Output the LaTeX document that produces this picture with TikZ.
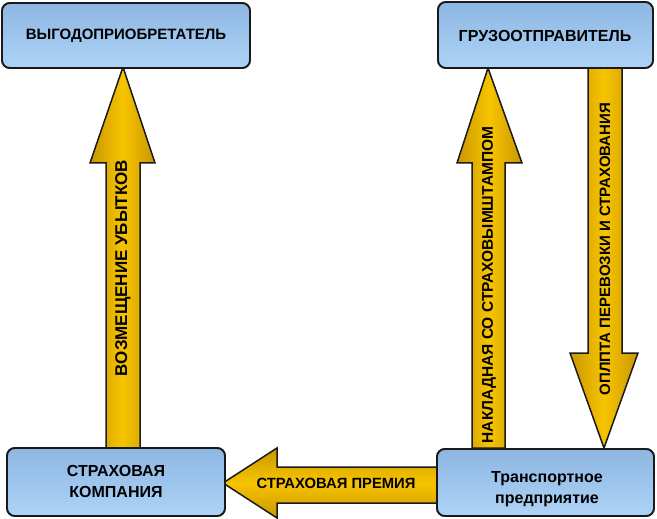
\documentclass[tikz,border=0pt]{standalone}
\usepackage{fontspec}
\setmainfont{Liberation Sans}
\usetikzlibrary{calc}
\definecolor{boxtop}{HTML}{8DB6E2}
\definecolor{boxbot}{HTML}{AED3F6}
\definecolor{edge}{HTML}{1A1A1A}
\definecolor{golde}{HTML}{C99700}
\definecolor{goldm}{HTML}{F7C400}
\tikzset{
  box/.style={draw=edge, line width=1.8pt, rounded corners=8pt, top color=boxtop, bottom color=boxbot, inner sep=0pt},
  boxtext/.style={font=\bfseries\fontsize{16}{21}\selectfont, align=center, text=black},
  varrow/.style={draw=edge, line width=1.5pt, line join=miter, left color=golde, right color=golde, middle color=goldm},
  harrow/.style={draw=edge, line width=1.5pt, line join=miter, top color=golde, bottom color=golde, middle color=goldm},
  arrtext/.style={font=\bfseries, text=black}
}
\begin{document}
\begin{tikzpicture}[x=1pt,y=-1pt]
\useasboundingbox (0,0) rectangle (657,519);
% boxes
\node[box, minimum width=248pt, minimum height=65pt] (vyg) at (126,35.5) {};
\node[box, minimum width=215pt, minimum height=66pt] (gruz) at (545.5,35) {};
\node[box, minimum width=218pt, minimum height=68pt] (strah) at (116,482) {};
\node[box, minimum width=217pt, minimum height=67pt] (trans) at (545.5,482.5) {};
% arrows
\draw[varrow] (106,448) -- (106,163) -- (90,163) -- (123,67) -- (155,163) -- (140,163) -- (140,448) -- cycle;
\draw[varrow] (472,448) -- (472,163) -- (457,163) -- (488,68) -- (522,163) -- (505,163) -- (505,448) -- cycle;
\draw[varrow] (588,68) -- (588,353) -- (570,353) -- (604,448) -- (638,353) -- (622,353) -- (622,68) -- cycle;
\draw[harrow] (437,467) -- (277,467) -- (277,448) -- (223,483) -- (277,518) -- (277,503) -- (437,503) -- cycle;
% redraw box outlines over arrow ends
\node[box] at (vyg) [minimum width=248pt, minimum height=65pt] {};
\node[box] at (gruz) [minimum width=215pt, minimum height=66pt] {};
\node[box] at (strah) [minimum width=218pt, minimum height=68pt] {};
\node[box] at (trans) [minimum width=217pt, minimum height=67pt] {};
% texts
\node[boxtext, font=\bfseries\fontsize{15}{20}\selectfont] (t1) at (126,36) {ВЫГОДОПРИОБРЕТАТЕЛЬ};
\node[boxtext] (t2) at (545,36) {ГРУЗООТПРАВИТЕЛЬ};
\node[boxtext] (t3) at (116,481) {СТРАХОВАЯ\\КОМПАНИЯ};
\node[boxtext] (t4) at (547,489) {Транспортное\\предприятие};
\node[arrtext, font=\bfseries\fontsize{17}{20}\selectfont, rotate=90] (a1) at (123,268) {ВОЗМЕЩЕНИЕ УБЫТКОВ};
\node[arrtext, font=\bfseries\fontsize{15.5}{18}\selectfont, rotate=90] (a2) at (489,285) {НАКЛАДНАЯ СО СТРАХОВЫМШТАМПОМ};
\node[arrtext, font=\bfseries\fontsize{15}{18}\selectfont, rotate=90] (a3) at (605,249) {ОПЛПТА ПЕРЕВОЗКИ И СТРАХОВАНИЯ};
\node[arrtext, font=\bfseries\fontsize{14.8}{18}\selectfont] (a4) at (336,483) {СТРАХОВАЯ ПРЕМИЯ};
\end{tikzpicture}
\end{document}
